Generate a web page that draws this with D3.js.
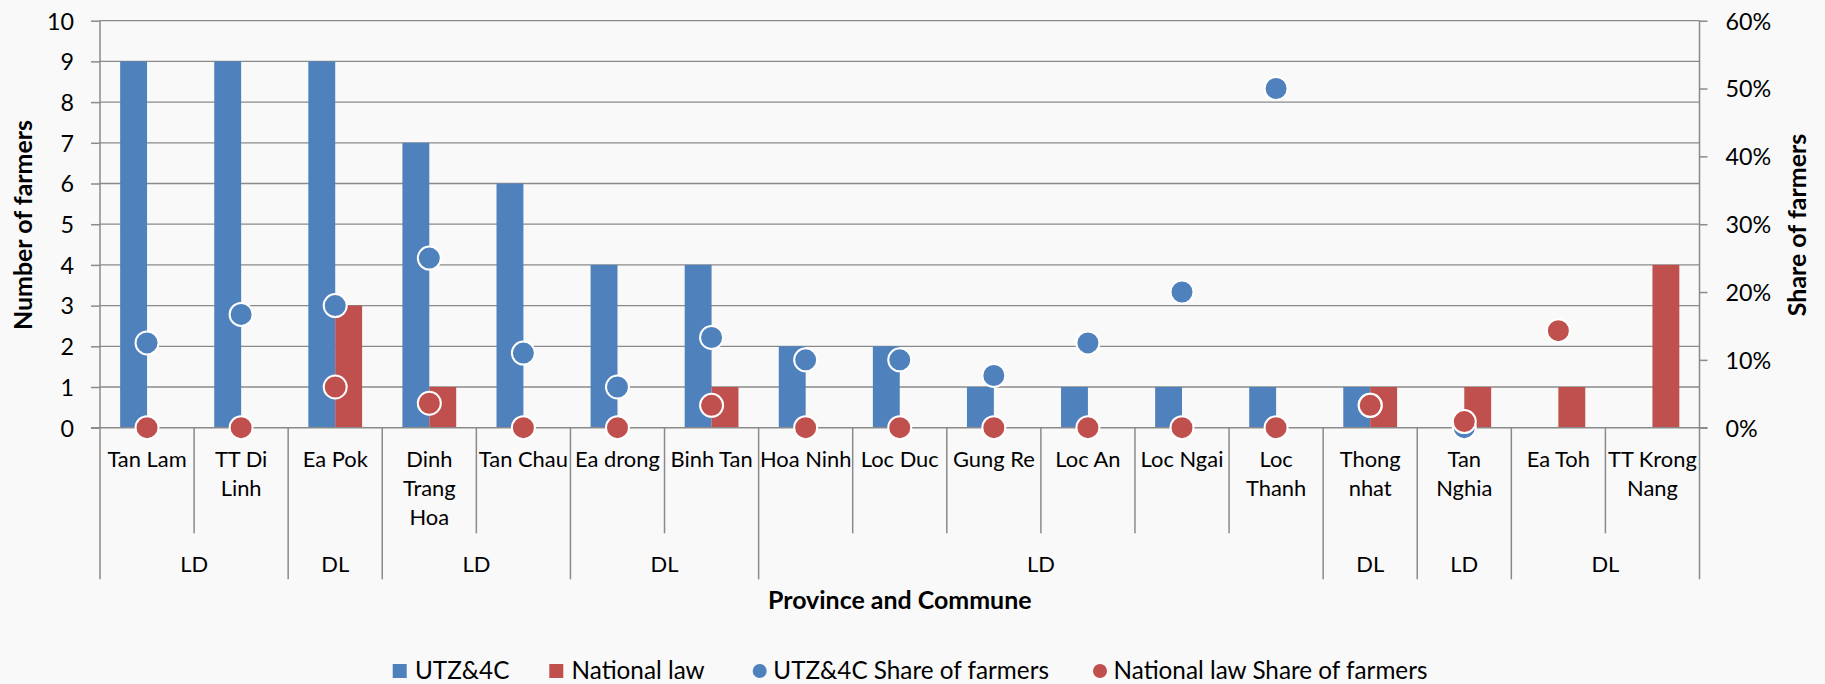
<!DOCTYPE html>
<html>
<head>
<meta charset="utf-8">
<script src="https://cdn.jsdelivr.net/npm/d3@7"></script>
<style>
  html, body { margin: 0; padding: 0; background: #f9f9f9; }
  svg { display: block; }
  text { font-family: Lato, "Open Sans", sans-serif; fill: #000; }
</style>
</head>
<body>
<svg id="chart" width="1825" height="684"></svg>
<script>
// ---------------- data ----------------
const communes = ["Tan Lam","TT Di Linh","Ea Pok","Dinh Trang Hoa","Tan Chau","Ea drong","Binh Tan","Hoa Ninh","Loc Duc","Gung Re","Loc An","Loc Ngai","Loc Thanh","Thong nhat","Tan Nghia","Ea Toh","TT Krong Nang"];
const communeLabelLines = [["Tan Lam"],["TT Di","Linh"],["Ea Pok"],["Dinh","Trang","Hoa"],["Tan Chau"],["Ea drong"],["Binh Tan"],["Hoa Ninh"],["Loc Duc"],["Gung Re"],["Loc An"],["Loc Ngai"],["Loc","Thanh"],["Thong","nhat"],["Tan","Nghia"],["Ea Toh"],["TT Krong","Nang"]];
const provinces = ["LD","LD","DL","LD","LD","DL","DL","LD","LD","LD","LD","LD","LD","DL","LD","DL","DL"];
const utzFarmers      = [9,9,9,7,6,4,4,2,2,1,1,1,1,1,0,0,0];
const nationalFarmers = [0,0,3,1,0,0,1,0,0,0,0,0,0,1,1,1,4];
const utzShare      = [0.125,0.167,0.18,0.25,0.11,0.06,0.133,0.10,0.10,0.077,0.125,0.20,0.50,0.033,0.0,null,null];
const nationalShare = [0,0,0.06,0.036,0,0,0.033,0,0,0,0,0,0,0.033,0.009,0.143,null];
const seriesNames = ["UTZ&4C","National law","UTZ&4C Share of farmers","National law Share of farmers"];
const leftTicks = [0,1,2,3,4,5,6,7,8,9,10];
const rightTicks = [0,0.1,0.2,0.3,0.4,0.5,0.6];

// ---------------- layout ----------------
const W = 1825, H = 684;
const L = 100, R = 1699.5, T = 20.7, B = 427.7;
const colors = { utz: "#4F81BD", nat: "#C0504D" };
const gridColor = "#8a8a8a";

const svg = d3.select("#chart");

// font-size helper: size a reference string to a target pixel width
function fitSize(str, target, weight) {
  const t = svg.append("text").attr("font-size", 100).attr("font-weight", weight || "normal").text(str);
  const w = t.node().getComputedTextLength();
  t.remove();
  return 100 * target / w;
}
const fsTick = fitSize("40%", 45.7);
const fsCat = fitSize("Tan Lam", 79.3);
const fsLegend = fitSize("National law Share of farmers", 314);
const fsTitle = fitSize("Province and Commune", 263.7, "bold");

const x = d3.scaleBand().domain(d3.range(communes.length)).range([L, R]).padding(0);
const xs = d3.scaleBand().domain(["utz","nat"]).range([0, x.bandwidth()]).paddingInner(0).paddingOuter(0.75);
const y = d3.scaleLinear().domain([0,10]).range([B, T]);
const y2 = d3.scaleLinear().domain([0,0.6]).range([B, T]);

// gridlines
svg.append("g").selectAll("line").data(leftTicks.filter(d => d > 0)).join("line")
  .attr("x1", L).attr("x2", R).attr("y1", d => y(d)).attr("y2", d => y(d))
  .attr("stroke", gridColor).attr("stroke-width", 1.3);

// bars
const bars = svg.append("g");
bars.selectAll("rect.u").data(utzFarmers).join("rect").attr("class","u")
  .attr("x", (d,i) => x(i) + xs("utz")).attr("width", xs.bandwidth())
  .attr("y", d => y(d)).attr("height", d => y(0) - y(d)).attr("fill", colors.utz);
bars.selectAll("rect.n").data(nationalFarmers).join("rect").attr("class","n")
  .attr("x", (d,i) => x(i) + xs("nat")).attr("width", xs.bandwidth())
  .attr("y", d => y(d)).attr("height", d => y(0) - y(d)).attr("fill", colors.nat);

// baseline
svg.append("line").attr("x1", L - 9).attr("x2", R + 8).attr("y1", B).attr("y2", B)
  .attr("stroke", gridColor).attr("stroke-width", 1.5);

// left axis
const ax = svg.append("g").attr("transform", `translate(${L},0)`)
  .call(d3.axisLeft(y).tickValues(leftTicks).tickSize(9).tickPadding(17));
ax.select(".domain").remove();
ax.selectAll(".tick line").attr("stroke", gridColor).attr("stroke-width", 1.5);
ax.selectAll(".tick text").attr("font-family", "Lato").attr("font-size", fsTick).attr("fill", "#000").attr("dy", "0.36em");

// right axis
const ay = svg.append("g").attr("transform", `translate(${R},0)`)
  .call(d3.axisRight(y2).tickValues(rightTicks).tickFormat(d3.format(".0%")).tickSize(8).tickPadding(18));
ay.select(".domain").remove();
ay.selectAll(".tick line").attr("stroke", gridColor).attr("stroke-width", 1.5);
ay.selectAll(".tick text").attr("font-family", "Lato").attr("font-size", fsTick).attr("fill", "#000").attr("dy", "0.36em");

// vertical axis lines (extending down as category separators)
const groupBoundaries = [0];
provinces.forEach((p, i) => { if (i > 0 && p !== provinces[i-1]) groupBoundaries.push(i); });
groupBoundaries.push(communes.length);

svg.append("line").attr("x1", L).attr("x2", L).attr("y1", T).attr("y2", 579.3).attr("stroke", gridColor).attr("stroke-width", 1.5);
svg.append("line").attr("x1", R).attr("x2", R).attr("y1", T).attr("y2", 579.3).attr("stroke", gridColor).attr("stroke-width", 1.5);

const sep = svg.append("g");
d3.range(1, communes.length).forEach(i => {
  const isGroup = groupBoundaries.includes(i);
  sep.append("line").attr("x1", x(i)).attr("x2", x(i))
    .attr("y1", B).attr("y2", isGroup ? 579.3 : 533.3)
    .attr("stroke", gridColor).attr("stroke-width", 1.5);
});

// category labels
const cl = svg.append("g");
communeLabelLines.forEach((lines, i) => {
  const t = cl.append("text").attr("text-anchor", "middle").attr("font-size", fsCat)
    .attr("x", x(i) + x.bandwidth()/2).attr("y", 466.7);
  lines.forEach((ln, j) => {
    t.append("tspan").attr("x", x(i) + x.bandwidth()/2).attr("y", 466.7 + j*29).text(ln);
  });
});

// province labels
for (let g = 0; g < groupBoundaries.length - 1; g++) {
  const a = groupBoundaries[g], b = groupBoundaries[g+1];
  svg.append("text").attr("text-anchor", "middle").attr("font-size", fsCat)
    .attr("x", (x(a) + (b < communes.length ? x(b) : R)) / 2).attr("y", 571.7)
    .text(provinces[a]);
}

// share dots
const dots = svg.append("g");
dots.selectAll("circle.u").data(utzShare.map((v,i)=>({v,i})).filter(d => d.v !== null)).join("circle").attr("class","u")
  .attr("cx", d => x(d.i) + x.bandwidth()/2).attr("cy", d => y2(d.v)).attr("r", 11.5)
  .attr("fill", colors.utz).attr("stroke", "#fff").attr("stroke-width", 2);
dots.selectAll("circle.n").data(nationalShare.map((v,i)=>({v,i})).filter(d => d.v !== null)).join("circle").attr("class","n")
  .attr("cx", d => x(d.i) + x.bandwidth()/2).attr("cy", d => y2(d.v)).attr("r", 11.5)
  .attr("fill", colors.nat).attr("stroke", "#fff").attr("stroke-width", 2);

// axis titles
svg.append("text").attr("text-anchor", "middle").attr("font-weight", "bold").attr("font-size", fsTitle)
  .attr("transform", `translate(32,225) rotate(-90)`).text("Number of farmers");
svg.append("text").attr("text-anchor", "middle").attr("font-weight", "bold").attr("font-size", fsTitle)
  .attr("transform", `translate(1806,225) rotate(-90)`).text("Share of farmers");
svg.append("text").attr("text-anchor", "middle").attr("font-weight", "bold").attr("font-size", fsTitle)
  .attr("x", (L + R)/2).attr("y", 609.3).text("Province and Commune");

// legend
const legend = svg.append("g");
const legY = 671;
const legendX = [392.7, 549.3, 752.7, 1093];
const legendItems = [
  { name: seriesNames[0], color: colors.utz, shape: "rect" },
  { name: seriesNames[1], color: colors.nat, shape: "rect" },
  { name: seriesNames[2], color: colors.utz, shape: "circle" },
  { name: seriesNames[3], color: colors.nat, shape: "circle" }
];
legendItems.forEach((it, k) => {
  const lx = legendX[k];
  let tx;
  if (it.shape === "rect") {
    legend.append("rect").attr("x", lx).attr("y", legY - 7).attr("width", 14).attr("height", 14).attr("fill", it.color);
    tx = lx + 22.3;
  } else {
    legend.append("circle").attr("cx", lx + 7).attr("cy", legY).attr("r", 7).attr("fill", it.color);
    tx = lx + 20.6;
  }
  legend.append("text").attr("x", tx).attr("y", legY + 8.3).attr("font-size", fsLegend).text(it.name);
});
</script>
</body>
</html>
